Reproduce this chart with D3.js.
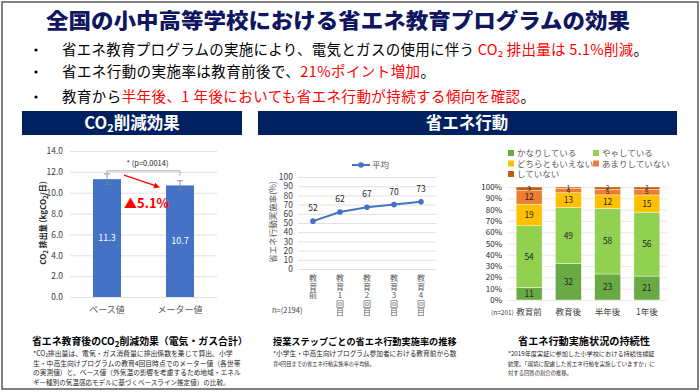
<!DOCTYPE html>
<html><head><meta charset="utf-8">
<script src="https://cdn.jsdelivr.net/npm/d3@7"></script>
<style>
html,body{margin:0;padding:0;background:#fff;}
svg{display:block;font-family:"Noto Sans CJK JP","Noto Sans",sans-serif;}
</style></head>
<body>
<svg id="c" width="700" height="392"></svg>
<script>
// ---------- DATA ----------
const titleText = "全国の小中高等学校における省エネ教育プログラムの効果";
const co2Categories = ["ベース値", "メーター値"];
const co2Values = [11.3, 10.7];
const co2Errors = [0.5, 0.45];
const co2Ticks = [0, 2, 4, 6, 8, 10, 12, 14];
const co2Reduction = "▲5.1%";
const co2PValue = "* (p=0.0014)";

const stepCategories = ["教育前", "教育1回目", "教育2回目", "教育3回目", "教育4回目"];
const stepValues = [52, 62, 67, 70, 73];
const stepTicks = [0, 10, 20, 30, 40, 50, 60, 70, 80, 90, 100];

const sustainCategories = ["教育前", "教育後", "半年後", "1年後"];
const sustainSeries = ["かなりしている", "やゃしている", "どちらともいえない", "あまりしていない", "していない"];
const sustainKanari = [11, 32, 23, 21];
const sustainYaya = [54, 49, 58, 56];
const sustainDochira = [19, 13, 12, 15];
const sustainAmari = [12, 4, 5, 5];
const sustainShiteinai = [3, 1, 2, 2];
const sustainTicks = [0, 0.1, 0.2, 0.3, 0.4, 0.5, 0.6, 0.7, 0.8, 0.9, 1.0];

// ---------- SETUP ----------
const svg = d3.select("#c");
const navy = "#002060";
const red = "#ff0000";
const grid = "#d9d9d9";
const blue = "#4472c4";

function txt(g, x, y, s, o = {}) {
  const t = g.append("text").attr("x", x).attr("y", y).text(s)
    .attr("font-size", o.size || 10).attr("fill", o.fill || "#000")
    .attr("text-anchor", o.anchor || "start")
    .attr("font-weight", o.weight || 400);
  if (o.len) t.attr("textLength", o.len).attr("lengthAdjust", o.adj || "spacingAndGlyphs");
  return t;
}
// fit text into a target width: shrink font if too wide, else spread letter spacing
function fit(t, target, size) {
  t.attr("font-size", size);
  const w = t.node().getComputedTextLength();
  if (w > target) t.attr("font-size", size * target / w);
  else t.attr("textLength", target).attr("lengthAdjust", "spacing");
  return t;
}

// frame
svg.append("rect").attr("x", 2).attr("y", 2).attr("width", 696).attr("height", 387)
  .attr("fill", "none").attr("stroke", "#595959").attr("stroke-width", 1.5);

// title
txt(svg, 46, 28, titleText, {size: 21, weight: 900, fill: "#101660", len: 584});

// bullets
const bullets = [
  {y: 55, len: 586, parts: [["省エネ教育プログラムの実施により、電気とガスの使用に伴う ", "#000"], ["CO₂ 排出量は 5.1%削減", red], ["。", "#000"]]},
  {y: 77, len: 373, parts: [["省エネ行動の実施率は教育前後で、", "#000"], ["21%ポイント増加", red], ["。", "#000"]]},
  {y: 102, len: 473, parts: [["教育から", "#000"], ["半年後、1 年後においても省エネ行動が持続する傾向を確認", red], ["。", "#000"]]}
];
bullets.forEach(b => {
  svg.append("circle").attr("cx", 36).attr("cy", b.y - 5).attr("r", 1.6).attr("fill", "#000");
  const t = svg.append("text").attr("x", 62).attr("y", b.y).attr("font-size", 14.5)
    .attr("textLength", b.len).attr("lengthAdjust", "spacing");
  b.parts.forEach(p => t.append("tspan").attr("fill", p[1]).text(p[0]));
});

// section headers
svg.append("rect").attr("x", 22).attr("y", 111).attr("width", 220).attr("height", 24).attr("fill", navy);
const h1 = svg.append("text").attr("x", 132).attr("y", 129).attr("text-anchor", "middle")
  .attr("font-size", 16.5).attr("font-weight", 700).attr("fill", "#fff");
h1.append("tspan").text("CO");
h1.append("tspan").attr("font-size", 11).attr("dy", 3).text("2");
h1.append("tspan").attr("dy", -3).text("削減効果");
svg.append("rect").attr("x", 258).attr("y", 111).attr("width", 419).attr("height", 24).attr("fill", navy);
txt(svg, 467, 129, "省エネ行動", {size: 16.5, weight: 700, fill: "#fff", anchor: "middle"});

// ---------- LEFT: CO2 bar chart ----------
{
  const g = svg.append("g");
  const y = d3.scaleLinear().domain([0, 14]).range([297, 151]);
  const x = d3.scaleBand().domain(co2Categories).range([70.5, 216.5]).paddingInner(0.616).paddingOuter(0.308);
  const ax = g.append("g").attr("transform", "translate(70,0)")
    .call(d3.axisLeft(y).tickValues(co2Ticks).tickFormat(d3.format(".1f")).tickSize(-147).tickPadding(7));
  ax.select(".domain").remove();
  ax.selectAll(".tick line").attr("stroke", grid).attr("stroke-width", 0.8);
  ax.selectAll(".tick text").attr("font-size", 8.5).attr("fill", "#404040").attr("font-family", "Noto Sans CJK JP");
  g.selectAll("rect.bar").data(co2Values).join("rect").attr("class", "bar")
    .attr("x", (d, i) => x(co2Categories[i])).attr("width", x.bandwidth())
    .attr("y", d => y(d)).attr("height", d => y(0) - y(d)).attr("fill", blue);
  g.selectAll("text.val").data(co2Values).join("text").attr("class", "val")
    .attr("x", (d, i) => x(co2Categories[i]) + x.bandwidth() / 2).attr("y", d => y(d / 2) + 3)
    .attr("text-anchor", "middle").attr("font-size", 9).attr("fill", "#fff").text(d => d.toFixed(1));
  // error bars
  co2Values.forEach((v, i) => {
    const cx = x(co2Categories[i]) + x.bandwidth() / 2;
    const e = co2Errors[i];
    g.append("line").attr("x1", cx).attr("x2", cx).attr("y1", y(v + e)).attr("y2", y(v - e)).attr("stroke", "#7f7f7f").attr("stroke-width", 0.8);
    [v + e, v - e].forEach(w => g.append("line").attr("x1", cx - 3).attr("x2", cx + 3).attr("y1", y(w)).attr("y2", y(w)).attr("stroke", "#7f7f7f").attr("stroke-width", 0.8));
  });
  // bracket
  const c0 = x(co2Categories[0]) + x.bandwidth() / 2, c1 = x(co2Categories[1]) + x.bandwidth() / 2;
  g.append("path").attr("d", `M${c0},${y(11.75)}V${y(12.1)}H${c1}V${y(11.65)}`)
    .attr("fill", "none").attr("stroke", "#a6a6a6").attr("stroke-width", 0.9);
  txt(g, (c0 + c1) / 2 + 4, y(12.1) - 5, co2PValue, {size: 7.5, anchor: "middle", fill: "#262626"});
  // arrow
  const ax1 = x(co2Categories[0]) + x.bandwidth() + 3, ay1 = y(co2Values[0]) - 4;
  const ax2 = x(co2Categories[1]) - 6, ay2 = y(co2Values[1]) + 2;
  g.append("line").attr("x1", ax1).attr("y1", ay1).attr("x2", ax2 - 4).attr("y2", ay2 - 1.5).attr("stroke", red).attr("stroke-width", 1.4);
  const ang = Math.atan2(ay2 - ay1, ax2 - ax1);
  const hl = 6, hw = 3;
  const bx = ax2 - hl * Math.cos(ang), by = ay2 - hl * Math.sin(ang);
  g.append("path").attr("d", `M${ax2},${ay2}L${bx - hw * Math.sin(ang)},${by + hw * Math.cos(ang)}L${bx + hw * Math.sin(ang)},${by - hw * Math.cos(ang)}Z`).attr("fill", red);
  txt(g, x(co2Categories[0]) + x.bandwidth() + 3, 208, co2Reduction, {size: 13, weight: 700, fill: red});
  // x labels
  co2Categories.forEach(c => txt(g, x(c) + x.bandwidth() / 2, 313, c, {size: 9, anchor: "middle", fill: "#595959"}));
  // y title
  const yt = g.append("text").attr("transform", "translate(46,223) rotate(-90)").attr("text-anchor", "middle")
    .attr("font-size", 8).attr("font-weight", 700).attr("fill", "#262626");
  yt.append("tspan").text("CO");
  yt.append("tspan").attr("font-size", 6).attr("dy", 2).text("2");
  yt.append("tspan").attr("dy", -2).text(" 排出量 (kgCO");
  yt.append("tspan").attr("font-size", 6).attr("dy", 2).text("2");
  yt.append("tspan").attr("dy", -2).text("/日)");
  // caption
  const cap = g.append("text").attr("x", 32).attr("y", 345).attr("font-size", 12.5).attr("font-weight", 700);
  cap.append("tspan").text("省エネ教育後のCO");
  cap.append("tspan").attr("font-size", 8).attr("dy", 2).text("2");
  cap.append("tspan").attr("dy", -2).text("削減効果（電気・ガス合計）");
  fit(cap, 215, 12.5);
  const notes = [
    ["*CO₂排出量は、電気・ガス消費量に排出係数を乗じて算出。小学", 200],
    ["生・中高生向けプログラムの教育4回目時点でのメーター値（各世帯", 208],
    ["の実測値）と、ベース値（外気温の影響を考慮するため地域・エネル", 208],
    ["ギー種別の気温感応モデルに基づくベースライン推定値）の比較。", 197]
  ];
  notes.forEach((n, i) => fit(txt(g, 33, 356 + i * 9.5, n[0], {fill: "#262626"}), n[1], 7.5));
}

// ---------- MIDDLE: line chart ----------
{
  const g = svg.append("g");
  const y = d3.scaleLinear().domain([0, 100]).range([269, 177]);
  const x = d3.scalePoint().domain(stepCategories).range([313, 421]);
  const ax = g.append("g").attr("transform", "translate(298,0)")
    .call(d3.axisLeft(y).tickValues(stepTicks).tickSize(-138).tickPadding(5));
  ax.select(".domain").remove();
  ax.selectAll(".tick line").attr("stroke", grid).attr("stroke-width", 0.8);
  ax.selectAll(".tick text").attr("font-size", 8.5).attr("fill", "#404040").attr("font-family", "Noto Sans CJK JP");
  const line = d3.line().x((d, i) => x(stepCategories[i])).y(d => y(d));
  g.append("path").datum(stepValues).attr("d", line).attr("fill", "none").attr("stroke", blue).attr("stroke-width", 2);
  g.selectAll("circle.pt").data(stepValues).join("circle").attr("class", "pt")
    .attr("cx", (d, i) => x(stepCategories[i])).attr("cy", d => y(d)).attr("r", 2.8).attr("fill", blue);
  g.selectAll("text.lbl").data(stepValues).join("text").attr("class", "lbl")
    .attr("x", (d, i) => x(stepCategories[i])).attr("y", d => y(d) - 10)
    .attr("text-anchor", "middle").attr("font-size", 8.5).attr("fill", "#262626").text(d => d);
  // legend
  g.append("line").attr("x1", 352).attr("x2", 370).attr("y1", 165).attr("y2", 165).attr("stroke", blue).attr("stroke-width", 2);
  g.append("circle").attr("cx", 361).attr("cy", 165).attr("r", 2.8).attr("fill", blue);
  txt(g, 372, 168, "平均", {size: 8.5, fill: "#595959"});
  // x labels vertical (one text per label)
  stepCategories.forEach(c => {
    g.append("text").attr("x", x(c)).attr("y", 274).text(c)
      .attr("font-size", 8).attr("fill", "#595959")
      .style("writing-mode", "vertical-rl").style("text-orientation", "upright")
      .style("letter-spacing", "0.6px");
  });
  txt(g, 272, 313, "n=(2194)", {size: 7.5, fill: "#404040"});
  g.append("text").attr("transform", "translate(276,222) rotate(-90)").attr("text-anchor", "middle")
    .attr("font-size", 8.5).attr("fill", "#595959").text("省エネ行動実施率(%)");
  fit(txt(g, 273, 345, "授業ステップごとの省エネ行動実施率の推移", {weight: 700}), 184, 12.5);
  fit(txt(g, 273, 356, "*小学生・中高生向けプログラム参加者における教育前から数", {fill: "#262626"}), 184, 7.5);
  fit(txt(g, 273, 365.5, "育4回目までの省エネ行動実施率の平均値。", {fill: "#262626"}), 102, 7.5);
}

// ---------- RIGHT: 100% stacked bars ----------
{
  const g = svg.append("g");
  const colors = ["#6aaa45", "#92d050", "#ffc000", "#ed7d31", "#c55a11"];
  const seriesVals = [sustainKanari, sustainYaya, sustainDochira, sustainAmari, sustainShiteinai];
  const rows = sustainCategories.map((c, i) => {
    const r = {cat: c};
    sustainSeries.forEach((s, k) => r[s] = seriesVals[k][i]);
    return r;
  });
  const stack = d3.stack().keys(sustainSeries).offset(d3.stackOffsetExpand)(rows);
  const y = d3.scaleLinear().domain([0, 1]).range([300, 187]);
  const x = d3.scaleBand().domain(sustainCategories).range([509.5, 666.5]).paddingInner(0.34).paddingOuter(0.17);
  const ax = g.append("g").attr("transform", "translate(507,0)")
    .call(d3.axisLeft(y).tickValues(sustainTicks).tickFormat(d3.format(".0%")).tickSize(-160).tickPadding(5));
  ax.select(".domain").remove();
  ax.selectAll(".tick line").attr("stroke", "#e4e4e4").attr("stroke-width", 0.8);
  ax.selectAll(".tick text").attr("font-size", 8).attr("fill", "#262626").attr("font-family", "Noto Sans CJK JP");
  stack.forEach((s, k) => {
    const sg = g.append("g");
    sg.selectAll("rect").data(s).join("rect")
      .attr("x", d => x(d.data.cat)).attr("width", x.bandwidth())
      .attr("y", d => y(d[1])).attr("height", d => y(d[0]) - y(d[1]))
      .attr("fill", colors[k]).attr("stroke", "#fff").attr("stroke-width", 0.4);
    sg.selectAll("text").data(s).join("text")
      .attr("x", d => x(d.data.cat) + x.bandwidth() / 2)
      .attr("y", d => y((d[0] + d[1]) / 2) + (d.data[sustainSeries[k]] < 6 ? 2.2 : 3))
      .attr("text-anchor", "middle")
      .attr("font-size", d => d.data[sustainSeries[k]] < 6 ? 6.5 : 8.5).attr("fill", "#262626")
      .text(d => d.data[sustainSeries[k]]);
  });
  // legend
  const lpos = [[508, 153], [593, 153], [508, 163.5], [593, 163.5], [508, 174]];
  sustainSeries.forEach((s, k) => {
    g.append("rect").attr("x", lpos[k][0]).attr("y", lpos[k][1] - 3).attr("width", 6).attr("height", 6).attr("fill", colors[k]);
    txt(g, lpos[k][0] + 9, lpos[k][1] + 3, s, {size: 8.5, fill: "#595959"});
  });
  sustainCategories.forEach(c => txt(g, x(c) + x.bandwidth() / 2, 315, c, {size: 8.5, anchor: "middle", fill: "#404040"}));
  txt(g, 491, 315, "(n=201)", {size: 6.5, fill: "#404040"});
  fit(txt(g, 518, 345, "省エネ行動実施状況の持続性", {weight: 700}), 132, 12.5);
  fit(txt(g, 508, 356, "*2019年度実証に参加した小学校における持続性検証", {fill: "#262626"}), 147, 7.5);
  fit(txt(g, 508, 365.5, "結果。「環境に配慮した省エネ行動を実施していますか」に", {fill: "#262626"}), 147, 7.5);
  fit(txt(g, 508, 375, "対する回答の割合の推移。", {fill: "#262626"}), 64, 7.5);
}
</script>
</body></html>
